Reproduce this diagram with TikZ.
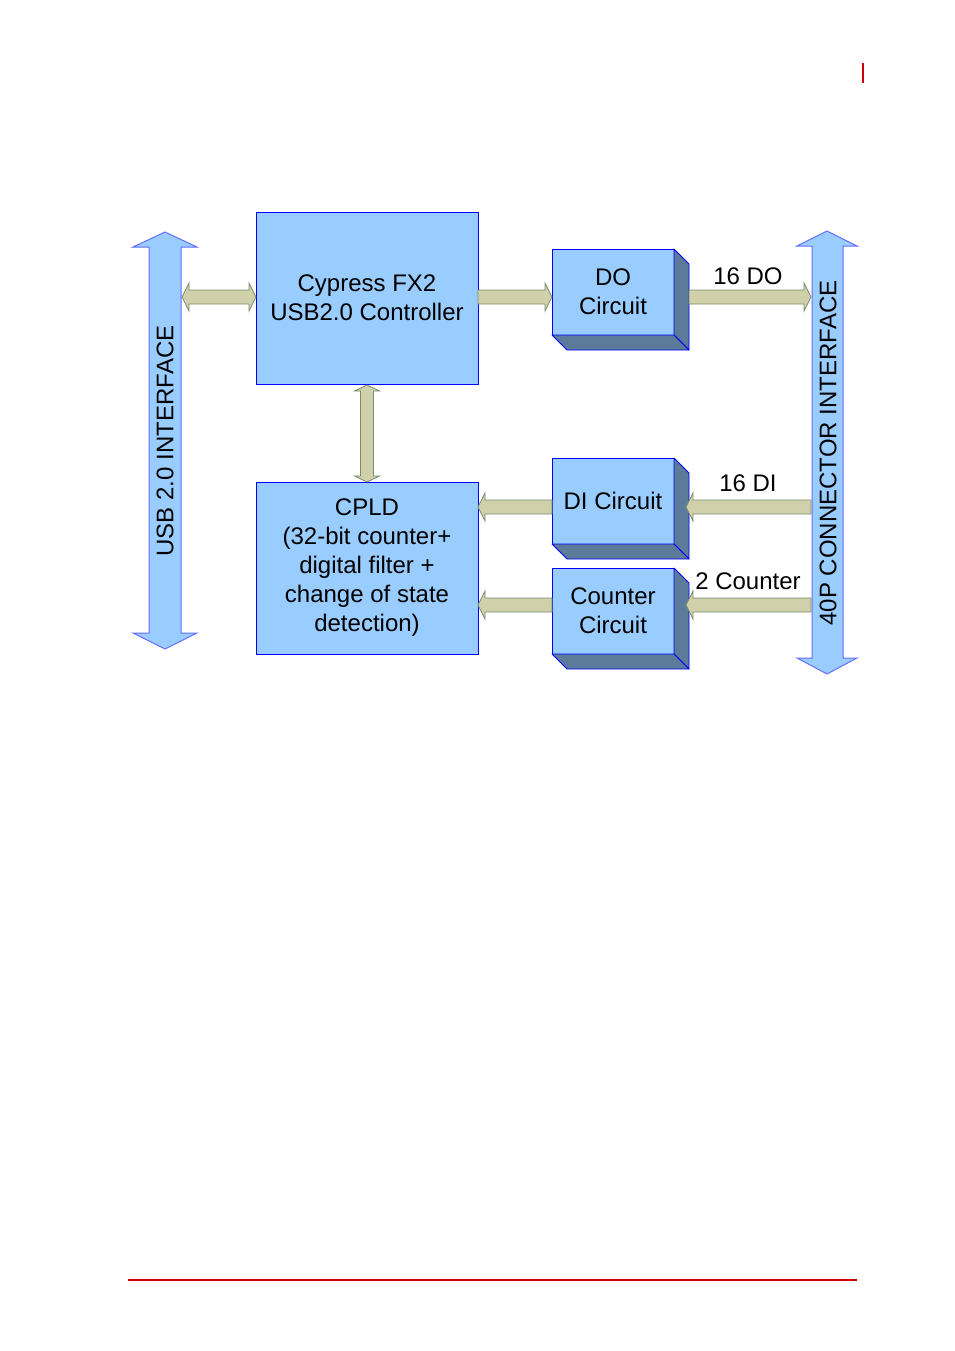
\documentclass[tikz,border=0pt]{standalone}
\usepackage{fontspec}
\setmainfont{Liberation Sans}
\usetikzlibrary{calc}
\definecolor{boxfill}{HTML}{99CCFF}
\definecolor{boxline}{HTML}{0000FF}
\definecolor{sidefill}{RGB}{92,122,153}
\definecolor{beigefill}{RGB}{208,208,170}
\definecolor{beigeline}{RGB}{120,140,110}
\definecolor{bigline}{RGB}{100,110,255}
\definecolor{pagered}{RGB}{204,0,0}
\tikzset{
  blockbox/.style={draw=boxline, fill=boxfill, line width=1pt, minimum width=222pt, minimum height=172pt, outer sep=0pt, inner sep=0pt, align=center, font=\fontsize{24}{29}\selectfont},
  smallbox/.style={blockbox, minimum width=122pt, minimum height=86pt},
  sideface/.style={draw=boxline, fill=sidefill, line width=0.8pt, line join=round},
  conn/.style={draw=beigeline, fill=beigefill, line width=0.8pt},
  bigarrow/.style={draw=bigline, fill=boxfill, line width=1pt},
  lbl/.style={font=\fontsize{24}{29}\selectfont, inner sep=0pt}
}
\newcommand\rarr[2]{\path[conn] ($(#1)+(0,-7)$) -- ($(#2)+(-7,-7)$) -- ($(#2)+(-7,-14)$) -- (#2) -- ($(#2)+(-7,14)$) -- ($(#2)+(-7,7)$) -- ($(#1)+(0,7)$) -- cycle;}
\newcommand\larr[2]{\path[conn] ($(#1)+(0,-7)$) -- ($(#2)+(7,-7)$) -- ($(#2)+(7,-14)$) -- (#2) -- ($(#2)+(7,14)$) -- ($(#2)+(7,7)$) -- ($(#1)+(0,7)$) -- cycle;}
\newcommand\hdarr[2]{\path[conn] (#1) -- ($(#1)+(7,-14)$) -- ($(#1)+(7,-7)$) -- ($(#2)+(-7,-7)$) -- ($(#2)+(-7,-14)$) -- (#2) -- ($(#2)+(-7,14)$) -- ($(#2)+(-7,7)$) -- ($(#1)+(7,7)$) -- ($(#1)+(7,14)$) -- cycle;}
\newcommand\vdarr[2]{\path[conn] (#1) -- ($(#1)+(12.5,6)$) -- ($(#1)+(6.5,6)$) -- ($(#2)+(6.5,-6)$) -- ($(#2)+(12.5,-6)$) -- (#2) -- ($(#2)+(-12.5,-6)$) -- ($(#2)+(-6.5,-6)$) -- ($(#1)+(-6.5,6)$) -- ($(#1)+(-12.5,6)$) -- cycle;}
\newcommand\depth[1]{%
  \path[sideface] (#1.north east) -- ++(15,15) -- ($(#1.south east)+(15,15)$) -- (#1.south east) -- cycle;
  \path[sideface] (#1.south west) -- (#1.south east) -- ($(#1.south east)+(15,15)$) -- ($(#1.south west)+(15,15)$) -- cycle;}
\begin{document}
\begin{tikzpicture}[x=1pt,y=-1pt]
\useasboundingbox (0,0) rectangle (954,1351);
% page decorations
\draw[pagered, line width=2pt] (863,63) -- (863,83);
\draw[pagered, line width=1.5pt] (128,1280) -- (857,1280);
% big interface arrows
\path[bigarrow] (165,232) -- (197,247) -- (181,247) -- (181,633) -- (197,633) -- (165,649) -- (133,633) -- (149,633) -- (149,247) -- (133,247) -- cycle;
\path[bigarrow] (827,231) -- (857,246) -- (843,246) -- (843,658) -- (857,658) -- (827,674) -- (797,658) -- (812,658) -- (812,246) -- (797,246) -- cycle;
\node[lbl, rotate=90] (usb) at (165,441) {USB 2.0 INTERFACE};
\node[lbl, rotate=90] (con) at (828,453) {40P CONNECTOR INTERFACE};
% blocks
\node[blockbox] (cy) at (367,298) {Cypress FX2\\USB2.0 Controller};
\node[blockbox] (cpld) at (367,568) {CPLD\\(32-bit counter+\\digital filter +\\change of state\\detection)};
\node[smallbox] (do) at (613,292) {DO\\Circuit};
\node[smallbox] (di) at (613,501) {DI Circuit};
\node[smallbox] (cnt) at (613,611) {Counter\\Circuit};
\depth{do}\depth{di}\depth{cnt}
% anchor coordinates for connectors
\coordinate (usbR) at (182,297);
\coordinate (cyW) at (cy.west |- usbR);
\coordinate (cyE) at (cy.east |- usbR);
\coordinate (doW) at (do.west |- usbR);
\coordinate (doE) at ($(do.east |- usbR)+(15,0)$);
\coordinate (conDO) at (811,297);
\coordinate (conDI) at (811,507);
\coordinate (diE) at ($(di.east |- conDI)+(12,0)$);
\coordinate (diW) at (di.west |- conDI);
\coordinate (cpDI) at (cpld.east |- conDI);
\coordinate (conCN) at (811,605);
\coordinate (cnE) at ($(cnt.east |- conCN)+(12,0)$);
\coordinate (cnW) at (cnt.west |- conCN);
\coordinate (cpCN) at (cpld.east |- conCN);
\coordinate (cyS) at ($(cy.south)+(0,1)$);
\coordinate (cpN) at (cpld.north);
% connectors
\hdarr{usbR}{cyW}
\rarr{cyE}{doW}
\rarr{doE}{conDO}
\larr{conDI}{diE}
\larr{diW}{cpDI}
\larr{conCN}{cnE}
\larr{cnW}{cpCN}
\vdarr{cyS}{cpN}
% labels
\node[lbl] (ldo) at (748,276) {16 DO};
\node[lbl] (ldi) at (748,483) {16 DI};
\node[lbl] (lcn) at (748,581) {2 Counter};
\end{tikzpicture}
\end{document}
